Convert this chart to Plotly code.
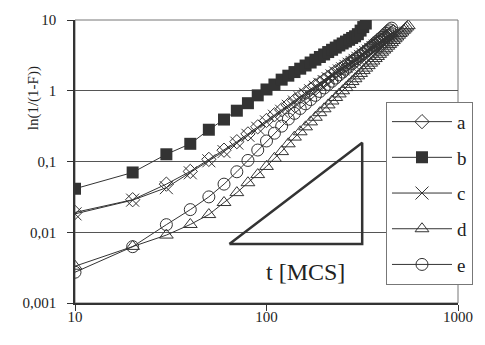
import plotly.graph_objects as go

# time points [MCS]
t_b = list(range(10, 331, 10))
t_ac = list(range(10, 461, 10))
t_e = list(range(10, 451, 10))
t_d = list(range(10, 551, 10))

# log10 of ln(1/(1-F))
logy_b = [-1.385, -1.155, -0.898, -0.75, -0.551, -0.407, -0.282, -0.176, -0.065, 0.018,
          0.088, 0.157, 0.213, 0.264, 0.312, 0.357, 0.399, 0.439, 0.477, 0.513,
          0.547, 0.579, 0.61, 0.64, 0.668, 0.695, 0.72, 0.746, 0.77, 0.80,
          0.85, 0.90, 0.95]
logy_c = [-1.74, -1.546, -1.37, -1.16, -0.99, -0.86, -0.74, -0.63, -0.53, -0.44,
          -0.36, -0.29, -0.22, -0.16, -0.10, -0.05, 0.0, 0.05, 0.09, 0.13,
          0.17, 0.21, 0.25, 0.28, 0.31, 0.345, 0.375, 0.40, 0.43, 0.46,
          0.485, 0.51, 0.54, 0.56, 0.585, 0.61, 0.63, 0.655, 0.675, 0.695,
          0.715, 0.735, 0.755, 0.775, 0.795, 0.815]
logy_a = [-1.72, -1.54, -1.32, -1.14, -0.97, -0.84, -0.72, -0.61, -0.51, -0.42,
          -0.34, -0.27, -0.20, -0.14, -0.08, -0.03, 0.02, 0.07, 0.11, 0.15,
          0.19, 0.23, 0.27, 0.30, 0.33, 0.365, 0.395, 0.42, 0.45, 0.48,
          0.505, 0.53, 0.56, 0.58, 0.605, 0.63, 0.65, 0.675, 0.695, 0.715,
          0.735, 0.755, 0.775, 0.795, 0.815, 0.835]
logy_e = [-2.565, -2.204, -1.893, -1.68, -1.5, -1.32, -1.145, -0.985, -0.838, -0.71,
          -0.6, -0.5, -0.4, -0.32, -0.25, -0.185, -0.125, -0.065, -0.01, 0.04,
          0.09, 0.135, 0.18, 0.225, 0.265, 0.305, 0.345, 0.385, 0.42, 0.455,
          0.49, 0.52, 0.555, 0.585, 0.615, 0.645, 0.675, 0.70, 0.73, 0.755,
          0.78, 0.81, 0.835, 0.86, 0.885]
logy_d = [-2.48, -2.2, -2.04, -1.89, -1.75, -1.58, -1.44, -1.30, -1.185, -1.07,
          -0.955, -0.86, -0.75, -0.655, -0.58, -0.51, -0.44, -0.375, -0.31, -0.255,
          -0.2, -0.145, -0.095, -0.045, 0.0, 0.045, 0.09, 0.13, 0.17, 0.21,
          0.245, 0.285, 0.32, 0.355, 0.39, 0.42, 0.455, 0.485, 0.515, 0.545,
          0.575, 0.60, 0.63, 0.655, 0.68, 0.71, 0.735, 0.76, 0.785, 0.81,
          0.83, 0.855, 0.875, 0.90, 0.92]

# slope-2 guide triangle
tri_t = [64, 316, 316, 64]
tri_y = [0.0068, 0.0068, 0.184, 0.0068]

y_tickvals = [0.001, 0.01, 0.1, 1, 10]
y_ticktext = ["0,001", "0,01", "0,1", "1", "10"]
x_tickvals = [10, 100, 1000]
x_ticktext = ["10", "100", "1000"]

DARK = "#333333"
FONT = "'Liberation Serif', 'Times New Roman', serif"

series = [
    ("a", t_ac, logy_a, dict(symbol="diamond-open", size=11, color=DARK, line=dict(width=1, color=DARK))),
    ("b", t_b, logy_b, dict(symbol="square", size=12, color=DARK, line=dict(width=0))),
    ("c", t_ac, logy_c, dict(symbol="x-thin-open", size=13, color=DARK, line=dict(width=1, color=DARK))),
    ("d", t_d, logy_d, dict(symbol="triangle-up-open", size=12, color=DARK, line=dict(width=1, color=DARK))),
    ("e", t_e, logy_e, dict(symbol="circle-open", size=12, color=DARK, line=dict(width=1, color=DARK))),
]

fig = go.Figure()
for name, t, ly, mk in series:
    fig.add_trace(go.Scatter(
        x=t, y=[10 ** v for v in ly], name=name, mode="lines+markers",
        line=dict(color=DARK, width=1), marker=mk, legendgroup=name,
    ))

fig.add_trace(go.Scatter(x=tri_t, y=tri_y, mode="lines", showlegend=False,
                         line=dict(color=DARK, width=2.5), hoverinfo="skip"))

fig.update_layout(
    width=485, height=345,
    margin=dict(l=75, r=22, t=16, b=42),
    paper_bgcolor="white", plot_bgcolor="white",
    font=dict(family=FONT, size=15, color="#222"),
    showlegend=True,
    legend=dict(x=0.812, y=0.711, xanchor="left", yanchor="top",
                bgcolor="white", bordercolor="#777", borderwidth=1,
                font=dict(family=FONT, size=19, color="#222"),
                tracegroupgap=8, itemwidth=60),
    xaxis=dict(type="log", range=[1, 3], tickvals=x_tickvals, ticktext=x_ticktext,
               showgrid=False, ticks="outside", ticklen=6, tickcolor=DARK,
               showline=True, linecolor=DARK, linewidth=1.5, zeroline=False,
               ticklabelstandoff=-7,
               tickfont=dict(family=FONT, size=15, color="#222")),
    yaxis=dict(type="log", range=[-3, 1], tickvals=y_tickvals, ticktext=y_ticktext,
               showgrid=True, gridcolor="#555", gridwidth=1,
               ticks="outside", ticklen=6, tickcolor=DARK,
               showline=True, linecolor=DARK, linewidth=1.5, zeroline=False,
               ticklabelstandoff=8,
               tickfont=dict(family=FONT, size=15, color="#222")),
    shapes=[dict(type="rect", xref="paper", yref="paper", x0=0, y0=0, x1=1, y1=1,
                 line=dict(color="#777", width=1), layer="below")],
    annotations=[
        dict(text="ln(1/(1-F))", xref="paper", yref="paper", x=-0.135, y=0.843,
             textangle=-90, showarrow=False, font=dict(family=FONT, size=15, color="#222")),
        dict(text="t [MCS]", xref="paper", yref="paper", x=0.709, y=0.056,
             showarrow=False, font=dict(family=FONT, size=24, color="#222")),
    ],
)

fig.write_html("out.html")
